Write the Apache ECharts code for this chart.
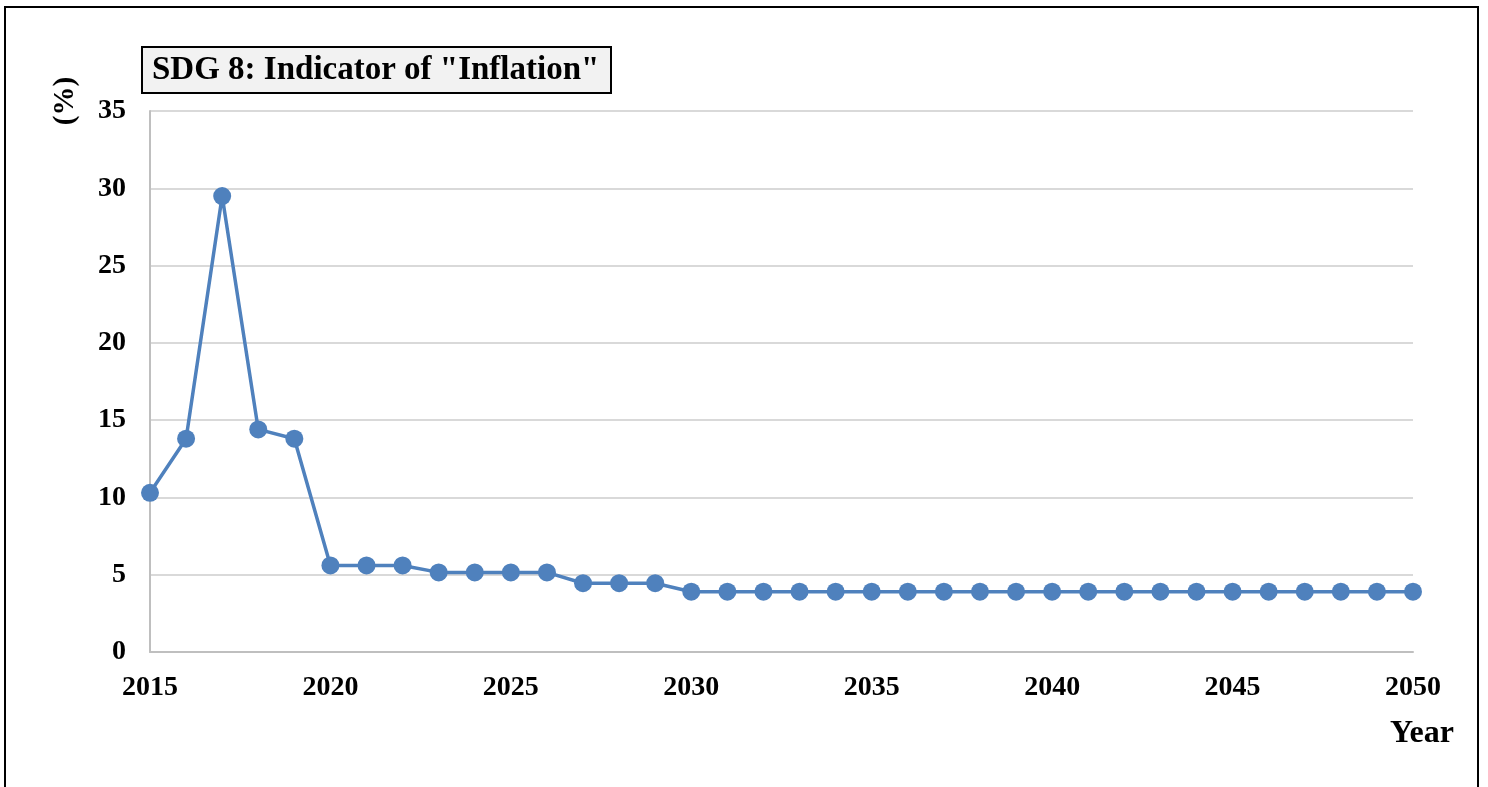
<!DOCTYPE html>
<html><head><meta charset="utf-8">
<script src="https://cdn.jsdelivr.net/npm/echarts@6/dist/echarts.min.js"></script>
<style>html,body{margin:0;padding:0;background:#fff}#c{width:1488px;height:787px}</style>
</head><body><div id="c"></div>
<script>
const years = [];
for (let y = 2015; y <= 2050; y++) years.push(y);
const inflation = [10.3, 13.8, 29.5, 14.4, 13.8,
  5.6, 5.6, 5.6,
  5.15, 5.15, 5.15, 5.15,
  4.45, 4.45, 4.45,
  3.9, 3.9, 3.9, 3.9, 3.9, 3.9, 3.9, 3.9, 3.9, 3.9, 3.9,
  3.9, 3.9, 3.9, 3.9, 3.9, 3.9, 3.9, 3.9, 3.9, 3.9];
const titleText = 'SDG 8: Indicator of "Inflation"';
const yName = '(%)';
const xName = 'Year';

const font = '"Liberation Serif","Times New Roman",serif';
const chart = echarts.init(document.getElementById('c'));
chart.setOption({
  animation: false,
  backgroundColor: '#fff',
  title: {
    text: titleText, left: 142, top: 47,
    backgroundColor: '#f2f2f2', borderColor: '#000', borderWidth: 2,
    padding: [7, 12, 6, 10],
    textStyle: { fontFamily: font, fontWeight: 'bold', fontSize: 33, color: '#000' }
  },
  grid: { left: 150, right: 75, top: 111, bottom: 135, containLabel: false },
  xAxis: {
    type: 'value', min: 2015, max: 2050, interval: 5,
    axisLine: { show: true, lineStyle: { color: '#bfbfbf', width: 2 } },
    axisTick: { show: false },
    splitLine: { show: false },
    axisLabel: { margin: 22, fontFamily: font, fontWeight: 'bold', fontSize: 28, color: '#000',
      formatter: v => String(v) }
  },
  yAxis: {
    type: 'value', min: 0, max: 35, interval: 5,
    axisLine: { show: true, lineStyle: { color: '#bfbfbf', width: 2 } },
    axisTick: { show: false },
    splitLine: { show: true, lineStyle: { color: '#d9d9d9', width: 2 } },
    axisLabel: { margin: 24, fontFamily: font, fontWeight: 'bold', fontSize: 28, color: '#000' }
  },
  series: [{
    type: 'line',
    data: years.map((y, i) => [y, inflation[i]]),
    symbol: 'circle', symbolSize: 18,
    lineStyle: { color: '#4f81bd', width: 3.5 },
    itemStyle: { color: '#4f81bd' }
  }],
  graphic: [
    { type: 'rect', silent: true, shape: { x: 5, y: 7, width: 1473, height: 800 },
      style: { fill: 'none', stroke: '#000', lineWidth: 2 } },
    { type: 'text', x: 66, y: 101, rotation: Math.PI / 2,
      style: { text: yName, font: 'bold 29px ' + font, fill: '#000', align: 'center', verticalAlign: 'middle' } },
    { type: 'text', x: 1422, y: 734,
      style: { text: xName, font: 'bold 32px ' + font, fill: '#000', align: 'center', verticalAlign: 'middle' } }
  ]
});
</script></body></html>
